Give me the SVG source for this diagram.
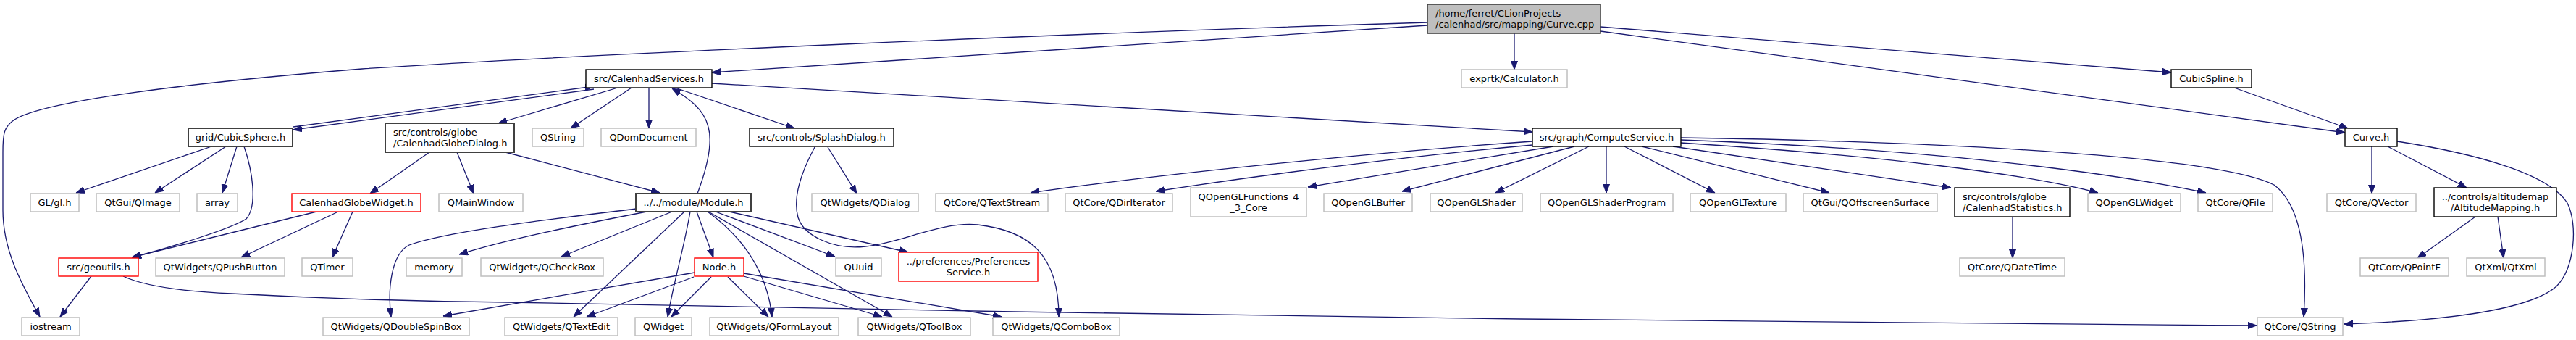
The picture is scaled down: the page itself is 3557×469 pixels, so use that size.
<svg xmlns="http://www.w3.org/2000/svg" width="3557" height="469" viewBox="0 0 3557 469">
<style>
text{font-family:"DejaVu Sans","Liberation Sans",sans-serif;font-size:13px;fill:#000}
.c{text-anchor:middle}
.ext{fill:#fff;stroke:#bfbfbf;stroke-width:1.5}
.doc{fill:#fff;stroke:#000;stroke-width:1.4}
.doc2{fill:#fff;stroke:#404040;stroke-width:2}
.red{fill:#fff;stroke:#f00;stroke-width:1.4}
.root{fill:#bfbfbf;stroke:#404040;stroke-width:1.6}
#edges path{fill:none;stroke:#191970;stroke-width:1.3;marker-end:url(#ah)}
</style>
<defs>
<marker id="ah" viewBox="0 0 12 10" refX="12" refY="5" markerWidth="12" markerHeight="10" markerUnits="userSpaceOnUse" orient="auto">
<path d="M0,0.5 L12,5 L0,9.5 z" fill="#191970" stroke="#191970" stroke-width="1"/>
</marker>
</defs>
<rect width="3557" height="469" fill="#fff"/>
<g id="edges">
<path d="M1971,35 L983,100"/>
<path d="M1971,31 C1500,45 800,75 500,95 C250,115 60,140 20,165 C5,175 4,185 4,210 L4,290 C4,350 35,400 55,437"/>
<path d="M2091,46 L2091,96"/>
<path d="M2210,37 L2998,100"/>
<path d="M2210,43 L3238,183"/>
<path d="M820,123 L405,179"/>
<path d="M405,175 L820,119"/>
<path d="M853,121 L688,170"/>
<path d="M872,121 L788,177"/>
<path d="M896,121 L896,177"/>
<path d="M932,121 L1097,177"/>
<path d="M983,115 L2116,182"/>
<path d="M963,267 C975,235 985,200 978,175 C972,150 950,135 928,122"/>
<path d="M593,210 L511,267"/>
<path d="M631,210 L654,267"/>
<path d="M698,210 L911,266"/>
<path d="M1143,203 L1183,267"/>
<path d="M1125,203 C1105,240 1095,275 1102,300 C1110,325 1150,345 1195,340 C1245,335 1300,305 1350,310 C1420,318 1462,350 1462,437"/>
<path d="M292,202 L105,266"/>
<path d="M312,202 L214,266"/>
<path d="M327,202 L307,266"/>
<path d="M337,202 C350,240 355,285 340,302 C320,315 240,340 183,355"/>
<path d="M437,292 L182,355"/>
<path d="M467,292 L333,355"/>
<path d="M487,292 L459,355"/>
<path d="M126,381 L83,437"/>
<path d="M170,381 C200,395 250,402 320,405 C450,412 600,416 700,417 C1000,422 1200,427 1400,430 C1700,434 1900,438 2100,440 C2500,444 2800,447 3116,449"/>
<path d="M878,288 C780,300 620,318 565,338 C540,350 535,400 540,437"/>
<path d="M893,292 C800,310 700,330 634,351"/>
<path d="M928,292 L775,354"/>
<path d="M945,292 L792,437"/>
<path d="M953,292 C945,340 930,390 922,437"/>
<path d="M962,292 L985,355"/>
<path d="M977,292 C1030,330 1060,380 1066,437"/>
<path d="M978,292 L1232,437"/>
<path d="M988,292 L1153,354"/>
<path d="M1007,292 L1254,348"/>
<path d="M959,376 C850,395 700,420 612,436"/>
<path d="M958,382 L810,437"/>
<path d="M982,382 L927,437"/>
<path d="M1005,382 L1061,437"/>
<path d="M1027,381 L1218,437"/>
<path d="M1027,377 L1383,437"/>
<path d="M2116,195 C1900,210 1600,240 1423,266"/>
<path d="M2116,200 C1950,215 1750,240 1596,264"/>
<path d="M2145,202 L1806,258"/>
<path d="M2174,202 L1936,264"/>
<path d="M2194,202 L2065,266"/>
<path d="M2218,202 L2218,266"/>
<path d="M2243,202 L2368,266"/>
<path d="M2267,202 L2526,266"/>
<path d="M2310,202 L2694,259"/>
<path d="M2321,197 C2600,215 2800,240 2897,266"/>
<path d="M2321,193 C2650,205 2900,235 3046,266"/>
<path d="M2321,190 C2600,194 3050,210 3140,255 C3180,285 3186,360 3181,437"/>
<path d="M2779,299 L2779,356"/>
<path d="M3085,121 L3242,177"/>
<path d="M3275,202 L3275,267"/>
<path d="M3297,202 L3406,259"/>
<path d="M3310,195 C3420,212 3520,240 3545,280 C3560,310 3555,370 3530,395 C3490,430 3360,443 3237,447"/>
<path d="M3418,299 L3338,356"/>
<path d="M3449,299 L3457,356"/>
</g>
<g id="n_root"><rect class="root" x="1971" y="6" width="239" height="40"/><text x="1982" y="23">/home/ferret/CLionProjects</text><text x="1982" y="38">/calenhad/src/mapping/Curve.cpp</text></g>
<g id="n_services"><rect class="doc" x="809" y="96" width="174" height="25"/><text class="c" x="896" y="113">src/CalenhadServices.h</text></g>
<g id="n_exprtk"><rect class="ext" x="2018" y="96" width="146" height="25"/><text class="c" x="2091" y="113">exprtk/Calculator.h</text></g>
<g id="n_cubicspline"><rect class="doc" x="2998" y="96" width="111" height="25"/><text class="c" x="3053.5" y="113">CubicSpline.h</text></g>
<g id="n_cubicsphere"><rect class="doc2" x="260" y="177" width="144" height="25"/><text class="c" x="332" y="194">grid/CubicSphere.h</text></g>
<g id="n_globedialog"><rect class="doc2" x="532" y="170" width="178" height="40"/><text x="543" y="187">src/controls/globe</text><text x="543" y="202">/CalenhadGlobeDialog.h</text></g>
<g id="n_qstring"><rect class="ext" x="735" y="177" width="71" height="25"/><text class="c" x="770.5" y="194">QString</text></g>
<g id="n_qdom"><rect class="ext" x="830" y="177" width="131" height="25"/><text class="c" x="895.5" y="194">QDomDocument</text></g>
<g id="n_splash"><rect class="doc" x="1035" y="177" width="199" height="25"/><text class="c" x="1134.5" y="194">src/controls/SplashDialog.h</text></g>
<g id="n_compute"><rect class="doc" x="2116" y="177" width="205" height="25"/><text class="c" x="2218.5" y="194">src/graph/ComputeService.h</text></g>
<g id="n_curve"><rect class="doc" x="3238" y="177" width="72" height="25"/><text class="c" x="3274" y="194">Curve.h</text></g>
<g id="n_gl"><rect class="ext" x="42" y="267" width="67" height="25"/><text class="c" x="75.5" y="284">GL/gl.h</text></g>
<g id="n_qimage"><rect class="ext" x="133" y="267" width="115" height="25"/><text class="c" x="190.5" y="284">QtGui/QImage</text></g>
<g id="n_array"><rect class="ext" x="272" y="267" width="56" height="25"/><text class="c" x="300" y="284">array</text></g>
<g id="n_globewidget"><rect class="red" x="403" y="267" width="178" height="25"/><text class="c" x="492" y="284">CalenhadGlobeWidget.h</text></g>
<g id="n_qmainwindow"><rect class="ext" x="606" y="267" width="116" height="25"/><text class="c" x="664" y="284">QMainWindow</text></g>
<g id="n_module"><rect class="doc2" x="878" y="267" width="159" height="25"/><text class="c" x="957.5" y="284">../../module/Module.h</text></g>
<g id="n_qdialog"><rect class="ext" x="1121" y="267" width="147" height="25"/><text class="c" x="1194.5" y="284">QtWidgets/QDialog</text></g>
<g id="n_qtextstream"><rect class="ext" x="1292" y="267" width="155" height="25"/><text class="c" x="1369.5" y="284">QtCore/QTextStream</text></g>
<g id="n_qdiriter"><rect class="ext" x="1471" y="267" width="148" height="25"/><text class="c" x="1545" y="284">QtCore/QDirIterator</text></g>
<g id="n_glfunc"><rect class="ext" x="1644" y="259" width="160" height="40"/><text class="c" x="1724" y="276">QOpenGLFunctions_4</text><text class="c" x="1724" y="291">_3_Core</text></g>
<g id="n_glbuffer"><rect class="ext" x="1828" y="267" width="122" height="25"/><text class="c" x="1889" y="284">QOpenGLBuffer</text></g>
<g id="n_glshader"><rect class="ext" x="1975" y="267" width="127" height="25"/><text class="c" x="2038.5" y="284">QOpenGLShader</text></g>
<g id="n_glprogram"><rect class="ext" x="2127" y="267" width="183" height="25"/><text class="c" x="2218.5" y="284">QOpenGLShaderProgram</text></g>
<g id="n_gltexture"><rect class="ext" x="2334" y="267" width="132" height="25"/><text class="c" x="2400" y="284">QOpenGLTexture</text></g>
<g id="n_offscreen"><rect class="ext" x="2490" y="267" width="185" height="25"/><text class="c" x="2582.5" y="284">QtGui/QOffscreenSurface</text></g>
<g id="n_stats"><rect class="doc" x="2699" y="259" width="159" height="40"/><text x="2710" y="276">src/controls/globe</text><text x="2710" y="291">/CalenhadStatistics.h</text></g>
<g id="n_glwidget"><rect class="ext" x="2883" y="267" width="128" height="25"/><text class="c" x="2947" y="284">QOpenGLWidget</text></g>
<g id="n_qfile"><rect class="ext" x="3035" y="267" width="103" height="25"/><text class="c" x="3086.5" y="284">QtCore/QFile</text></g>
<g id="n_qvector"><rect class="ext" x="3213" y="267" width="123" height="25"/><text class="c" x="3274.5" y="284">QtCore/QVector</text></g>
<g id="n_altmap"><rect class="doc" x="3361" y="259" width="169" height="40"/><text class="c" x="3445.5" y="276">../controls/altitudemap</text><text class="c" x="3445.5" y="291">/AltitudeMapping.h</text></g>
<g id="n_geoutils"><rect class="red" x="81" y="356" width="110" height="25"/><text class="c" x="136" y="373">src/geoutils.h</text></g>
<g id="n_qpushbutton"><rect class="ext" x="215" y="356" width="178" height="25"/><text class="c" x="304" y="373">QtWidgets/QPushButton</text></g>
<g id="n_qtimer"><rect class="ext" x="417" y="356" width="70" height="25"/><text class="c" x="452" y="373">QTimer</text></g>
<g id="n_memory"><rect class="ext" x="561" y="356" width="77" height="25"/><text class="c" x="599.5" y="373">memory</text></g>
<g id="n_qcheckbox"><rect class="ext" x="664" y="356" width="169" height="25"/><text class="c" x="748.5" y="373">QtWidgets/QCheckBox</text></g>
<g id="n_node"><rect class="red" x="959" y="356" width="68" height="25"/><text class="c" x="993" y="373">Node.h</text></g>
<g id="n_quuid"><rect class="ext" x="1154" y="356" width="63" height="25"/><text class="c" x="1185.5" y="373">QUuid</text></g>
<g id="n_prefs"><rect class="red" x="1241" y="348" width="192" height="40"/><text class="c" x="1337" y="365">../preferences/Preferences</text><text class="c" x="1337" y="380">Service.h</text></g>
<g id="n_qdatetime"><rect class="ext" x="2706" y="356" width="145" height="25"/><text class="c" x="2778.5" y="373">QtCore/QDateTime</text></g>
<g id="n_qpointf"><rect class="ext" x="3259" y="356" width="122" height="25"/><text class="c" x="3320" y="373">QtCore/QPointF</text></g>
<g id="n_qtxml"><rect class="ext" x="3406" y="356" width="108" height="25"/><text class="c" x="3460" y="373">QtXml/QtXml</text></g>
<g id="n_iostream"><rect class="ext" x="30" y="438" width="80" height="25"/><text class="c" x="70" y="455">iostream</text></g>
<g id="n_qdoublespin"><rect class="ext" x="446" y="438" width="202" height="25"/><text class="c" x="547" y="455">QtWidgets/QDoubleSpinBox</text></g>
<g id="n_qtextedit"><rect class="ext" x="697" y="438" width="156" height="25"/><text class="c" x="775" y="455">QtWidgets/QTextEdit</text></g>
<g id="n_qwidget"><rect class="ext" x="877" y="438" width="78" height="25"/><text class="c" x="916" y="455">QWidget</text></g>
<g id="n_qformlayout"><rect class="ext" x="980" y="438" width="178" height="25"/><text class="c" x="1069" y="455">QtWidgets/QFormLayout</text></g>
<g id="n_qtoolbox"><rect class="ext" x="1185" y="438" width="155" height="25"/><text class="c" x="1262.5" y="455">QtWidgets/QToolBox</text></g>
<g id="n_qcombobox"><rect class="ext" x="1371" y="438" width="175" height="25"/><text class="c" x="1458.5" y="455">QtWidgets/QComboBox</text></g>
<g id="n_qtcoreqstring"><rect class="ext" x="3117" y="438" width="118" height="25"/><text class="c" x="3176" y="455">QtCore/QString</text></g>
</svg>
